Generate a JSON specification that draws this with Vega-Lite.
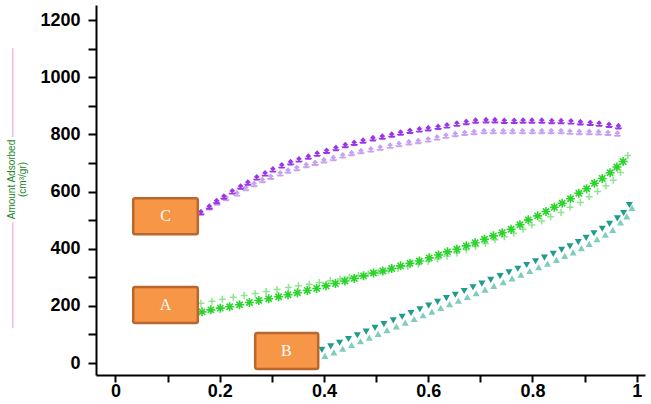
{
 "$schema": "https://vega.github.io/schema/vega-lite/v6.json",
 "width": 549, "height": 370,
 "autosize": {"type": "none"},
 "padding": {"left": 96, "top": 5, "right": 6, "bottom": 29},
 "background": "white",
 "config": {"view": {"stroke": null}, "axis": {"grid": false}},
 "datasets": {
  "pink": [{"x": -0.197, "y": 122, "y2": 493}, {"x": -0.197, "y": 791, "y2": 1102}],
  "boxes": [
   {"x": 0.034, "x2": 0.158, "y": 451, "y2": 577},
   {"x": 0.034, "x2": 0.158, "y": 140, "y2": 266},
   {"x": 0.268, "x2": 0.389, "y": -21, "y2": 105}
  ],
  "labels": [
   {"label": "C", "x": 0.096, "y": 514},
   {"label": "A", "x": 0.096, "y": 203},
   {"label": "B", "x": 0.328, "y": 42}
  ],
  "pts": [
   {"s":"C1","x":0.164,"y":526},{"s":"C1","x":0.180,"y":546},{"s":"C1","x":0.194,"y":565},{"s":"C1","x":0.208,"y":581},{"s":"C1","x":0.224,"y":599},{"s":"C1","x":0.240,"y":616},{"s":"C1","x":0.254,"y":630},{"s":"C1","x":0.271,"y":648},{"s":"C1","x":0.287,"y":662},{"s":"C1","x":0.302,"y":676},{"s":"C1","x":0.319,"y":690},{"s":"C1","x":0.336,"y":701},{"s":"C1","x":0.352,"y":711},{"s":"C1","x":0.370,"y":721},{"s":"C1","x":0.387,"y":731},{"s":"C1","x":0.405,"y":741},{"s":"C1","x":0.423,"y":751},{"s":"C1","x":0.441,"y":761},{"s":"C1","x":0.458,"y":769},{"s":"C1","x":0.475,"y":777},{"s":"C1","x":0.494,"y":785},{"s":"C1","x":0.512,"y":791},{"s":"C1","x":0.530,"y":798},{"s":"C1","x":0.547,"y":805},{"s":"C1","x":0.565,"y":811},{"s":"C1","x":0.583,"y":816},{"s":"C1","x":0.600,"y":820},{"s":"C1","x":0.619,"y":825},{"s":"C1","x":0.636,"y":830},{"s":"C1","x":0.655,"y":836},{"s":"C1","x":0.673,"y":842},{"s":"C1","x":0.691,"y":847},{"s":"C1","x":0.711,"y":848},{"s":"C1","x":0.728,"y":848},{"s":"C1","x":0.746,"y":846},{"s":"C1","x":0.765,"y":846},{"s":"C1","x":0.782,"y":847},{"s":"C1","x":0.799,"y":847},{"s":"C1","x":0.818,"y":847},{"s":"C1","x":0.837,"y":845},{"s":"C1","x":0.855,"y":845},{"s":"C1","x":0.874,"y":844},{"s":"C1","x":0.892,"y":841},{"s":"C1","x":0.911,"y":839},{"s":"C1","x":0.928,"y":836},{"s":"C1","x":0.947,"y":832},{"s":"C1","x":0.965,"y":827},
   {"s":"C2","x":0.180,"y":543},{"s":"C2","x":0.195,"y":560},{"s":"C2","x":0.212,"y":576},{"s":"C2","x":0.233,"y":592},{"s":"C2","x":0.250,"y":611},{"s":"C2","x":0.266,"y":625},{"s":"C2","x":0.282,"y":639},{"s":"C2","x":0.298,"y":650},{"s":"C2","x":0.316,"y":662},{"s":"C2","x":0.331,"y":672},{"s":"C2","x":0.348,"y":681},{"s":"C2","x":0.366,"y":691},{"s":"C2","x":0.383,"y":699},{"s":"C2","x":0.400,"y":708},{"s":"C2","x":0.418,"y":716},{"s":"C2","x":0.436,"y":725},{"s":"C2","x":0.453,"y":733},{"s":"C2","x":0.471,"y":740},{"s":"C2","x":0.490,"y":746},{"s":"C2","x":0.508,"y":752},{"s":"C2","x":0.527,"y":759},{"s":"C2","x":0.544,"y":765},{"s":"C2","x":0.563,"y":771},{"s":"C2","x":0.581,"y":775},{"s":"C2","x":0.600,"y":781},{"s":"C2","x":0.617,"y":788},{"s":"C2","x":0.634,"y":794},{"s":"C2","x":0.652,"y":800},{"s":"C2","x":0.670,"y":804},{"s":"C2","x":0.688,"y":807},{"s":"C2","x":0.707,"y":810},{"s":"C2","x":0.725,"y":810},{"s":"C2","x":0.744,"y":810},{"s":"C2","x":0.762,"y":810},{"s":"C2","x":0.781,"y":810},{"s":"C2","x":0.800,"y":810},{"s":"C2","x":0.818,"y":810},{"s":"C2","x":0.836,"y":810},{"s":"C2","x":0.855,"y":810},{"s":"C2","x":0.872,"y":808},{"s":"C2","x":0.890,"y":807},{"s":"C2","x":0.909,"y":807},{"s":"C2","x":0.927,"y":806},{"s":"C2","x":0.945,"y":804},{"s":"C2","x":0.963,"y":801},
   {"s":"A1","x":0.166,"y":179},{"s":"A1","x":0.183,"y":186},{"s":"A1","x":0.201,"y":192},{"s":"A1","x":0.219,"y":197},{"s":"A1","x":0.238,"y":204},{"s":"A1","x":0.257,"y":212},{"s":"A1","x":0.275,"y":219},{"s":"A1","x":0.294,"y":225},{"s":"A1","x":0.313,"y":232},{"s":"A1","x":0.331,"y":239},{"s":"A1","x":0.349,"y":246},{"s":"A1","x":0.368,"y":254},{"s":"A1","x":0.386,"y":261},{"s":"A1","x":0.404,"y":270},{"s":"A1","x":0.422,"y":278},{"s":"A1","x":0.440,"y":287},{"s":"A1","x":0.458,"y":296},{"s":"A1","x":0.476,"y":305},{"s":"A1","x":0.495,"y":315},{"s":"A1","x":0.513,"y":322},{"s":"A1","x":0.530,"y":331},{"s":"A1","x":0.547,"y":340},{"s":"A1","x":0.565,"y":349},{"s":"A1","x":0.583,"y":357},{"s":"A1","x":0.602,"y":368},{"s":"A1","x":0.620,"y":378},{"s":"A1","x":0.637,"y":389},{"s":"A1","x":0.655,"y":398},{"s":"A1","x":0.673,"y":410},{"s":"A1","x":0.690,"y":421},{"s":"A1","x":0.708,"y":433},{"s":"A1","x":0.725,"y":445},{"s":"A1","x":0.742,"y":456},{"s":"A1","x":0.759,"y":468},{"s":"A1","x":0.776,"y":484},{"s":"A1","x":0.792,"y":501},{"s":"A1","x":0.810,"y":515},{"s":"A1","x":0.826,"y":530},{"s":"A1","x":0.842,"y":545},{"s":"A1","x":0.857,"y":559},{"s":"A1","x":0.873,"y":575},{"s":"A1","x":0.889,"y":594},{"s":"A1","x":0.904,"y":610},{"s":"A1","x":0.919,"y":629},{"s":"A1","x":0.934,"y":646},{"s":"A1","x":0.949,"y":666},{"s":"A1","x":0.962,"y":686},{"s":"A1","x":0.974,"y":705},
   {"s":"A2","x":0.164,"y":209},{"s":"A2","x":0.185,"y":216},{"s":"A2","x":0.205,"y":223},{"s":"A2","x":0.226,"y":230},{"s":"A2","x":0.247,"y":236},{"s":"A2","x":0.268,"y":243},{"s":"A2","x":0.289,"y":250},{"s":"A2","x":0.310,"y":257},{"s":"A2","x":0.332,"y":264},{"s":"A2","x":0.351,"y":270},{"s":"A2","x":0.372,"y":276},{"s":"A2","x":0.391,"y":282},{"s":"A2","x":0.412,"y":288},{"s":"A2","x":0.431,"y":294},{"s":"A2","x":0.449,"y":300},{"s":"A2","x":0.466,"y":306},{"s":"A2","x":0.485,"y":312},{"s":"A2","x":0.504,"y":318},{"s":"A2","x":0.524,"y":324},{"s":"A2","x":0.542,"y":331},{"s":"A2","x":0.561,"y":338},{"s":"A2","x":0.581,"y":346},{"s":"A2","x":0.600,"y":355},{"s":"A2","x":0.618,"y":364},{"s":"A2","x":0.636,"y":374},{"s":"A2","x":0.655,"y":385},{"s":"A2","x":0.673,"y":396},{"s":"A2","x":0.691,"y":408},{"s":"A2","x":0.710,"y":418},{"s":"A2","x":0.728,"y":431},{"s":"A2","x":0.746,"y":442},{"s":"A2","x":0.764,"y":454},{"s":"A2","x":0.782,"y":468},{"s":"A2","x":0.799,"y":483},{"s":"A2","x":0.818,"y":497},{"s":"A2","x":0.835,"y":512},{"s":"A2","x":0.855,"y":527},{"s":"A2","x":0.872,"y":545},{"s":"A2","x":0.892,"y":562},{"s":"A2","x":0.909,"y":582},{"s":"A2","x":0.925,"y":600},{"s":"A2","x":0.941,"y":620},{"s":"A2","x":0.955,"y":640},{"s":"A2","x":0.969,"y":667},{"s":"A2","x":0.983,"y":726},
   {"s":"B1","x":0.396,"y":46},{"s":"B1","x":0.413,"y":58},{"s":"B1","x":0.430,"y":71},{"s":"B1","x":0.447,"y":84},{"s":"B1","x":0.464,"y":97},{"s":"B1","x":0.481,"y":110},{"s":"B1","x":0.498,"y":123},{"s":"B1","x":0.515,"y":136},{"s":"B1","x":0.533,"y":149},{"s":"B1","x":0.550,"y":162},{"s":"B1","x":0.567,"y":175},{"s":"B1","x":0.584,"y":188},{"s":"B1","x":0.601,"y":201},{"s":"B1","x":0.618,"y":214},{"s":"B1","x":0.635,"y":227},{"s":"B1","x":0.652,"y":239},{"s":"B1","x":0.669,"y":252},{"s":"B1","x":0.686,"y":265},{"s":"B1","x":0.703,"y":278},{"s":"B1","x":0.720,"y":291},{"s":"B1","x":0.738,"y":304},{"s":"B1","x":0.755,"y":317},{"s":"B1","x":0.772,"y":330},{"s":"B1","x":0.789,"y":343},{"s":"B1","x":0.806,"y":356},{"s":"B1","x":0.823,"y":369},{"s":"B1","x":0.840,"y":382},{"s":"B1","x":0.856,"y":396},{"s":"B1","x":0.872,"y":408},{"s":"B1","x":0.888,"y":423},{"s":"B1","x":0.903,"y":438},{"s":"B1","x":0.918,"y":454},{"s":"B1","x":0.934,"y":470},{"s":"B1","x":0.948,"y":487},{"s":"B1","x":0.963,"y":506},{"s":"B1","x":0.975,"y":525},{"s":"B1","x":0.986,"y":553},
   {"s":"B2","x":0.402,"y":25},{"s":"B2","x":0.419,"y":37},{"s":"B2","x":0.436,"y":50},{"s":"B2","x":0.453,"y":63},{"s":"B2","x":0.470,"y":76},{"s":"B2","x":0.487,"y":89},{"s":"B2","x":0.504,"y":102},{"s":"B2","x":0.521,"y":115},{"s":"B2","x":0.539,"y":128},{"s":"B2","x":0.556,"y":141},{"s":"B2","x":0.573,"y":154},{"s":"B2","x":0.590,"y":167},{"s":"B2","x":0.607,"y":180},{"s":"B2","x":0.624,"y":193},{"s":"B2","x":0.641,"y":206},{"s":"B2","x":0.658,"y":218},{"s":"B2","x":0.675,"y":231},{"s":"B2","x":0.692,"y":244},{"s":"B2","x":0.709,"y":257},{"s":"B2","x":0.726,"y":270},{"s":"B2","x":0.744,"y":283},{"s":"B2","x":0.761,"y":296},{"s":"B2","x":0.778,"y":309},{"s":"B2","x":0.795,"y":322},{"s":"B2","x":0.812,"y":335},{"s":"B2","x":0.829,"y":348},{"s":"B2","x":0.846,"y":361},{"s":"B2","x":0.862,"y":375},{"s":"B2","x":0.878,"y":387},{"s":"B2","x":0.894,"y":402},{"s":"B2","x":0.909,"y":417},{"s":"B2","x":0.924,"y":433},{"s":"B2","x":0.940,"y":449},{"s":"B2","x":0.954,"y":466},{"s":"B2","x":0.969,"y":492},{"s":"B2","x":0.981,"y":513},{"s":"B2","x":0.991,"y":543}
  ]
 },
 "encoding": {
  "x": {"field": "x", "type": "quantitative",
   "scale": {"domain": [-0.0374, 1.016], "nice": false, "zero": false},
   "axis": {"values": [0, 0.1, 0.2, 0.3, 0.4, 0.5, 0.6, 0.7, 0.8, 0.9, 1],
    "labelExpr": "round(datum.value*10)%2==0 ? ''+datum.value : ''",
    "title": null, "domainColor": "black", "domainWidth": 2, "tickColor": "black", "tickWidth": 2, "tickSize": 7,
    "labelFont": "Liberation Sans", "labelFontSize": 18, "labelFontWeight": "bold", "labelColor": "black",
    "labelPadding": 0, "labelFlush": false, "labelOverlap": false}},
  "y": {"field": "y", "type": "quantitative",
   "scale": {"domain": [-42, 1253], "nice": false, "zero": false},
   "axis": {"values": [0, 100, 200, 300, 400, 500, 600, 700, 800, 900, 1000, 1100, 1200],
    "labelExpr": "datum.value%200==0 ? ''+datum.value : ''",
    "title": ["Amount Adsorbed", "(cm³/gr)"], "titleFont": "Liberation Sans", "titleFontSize": 10,
    "titleFontWeight": "normal", "titleColor": "#1E861E", "titleX": -80, "titleY": 174, "titleAngle": 270,
    "titleAlign": "center", "titleBaseline": "bottom", "titleLineHeight": 11,
    "domainColor": "black", "domainWidth": 2, "tickColor": "black", "tickWidth": 2, "tickSize": 8,
    "labelFont": "Liberation Sans", "labelFontSize": 18, "labelFontWeight": "bold", "labelColor": "black",
    "labelPadding": 8, "labelFlush": false, "labelOverlap": false}}
 },
 "layer": [
  {"data": {"name": "pink"}, "mark": {"type": "rule", "color": "#EFA8DE", "strokeWidth": 1.2},
   "encoding": {"y2": {"field": "y2"}}},
  {"data": {"name": "pts"}, "transform": [{"filter": "datum.s=='C2'"}],
   "mark": {"type": "point", "shape": "M0,-1L0.75,-0.2L0,0.3L-0.75,-0.2Z M-1,0.2L1,0.2L0.7,0.7L-0.7,0.7Z", "filled": true, "color": "#C6A2F0", "size": 60, "opacity": 1}},
  {"data": {"name": "pts"}, "transform": [{"filter": "datum.s=='C1'"}],
   "mark": {"type": "point", "shape": "M0,-1L0.75,-0.2L0,0.3L-0.75,-0.2Z M-1,0.2L1,0.2L0.7,0.7L-0.7,0.7Z", "filled": true, "color": "#9A36E8", "size": 60, "opacity": 1}},
  {"data": {"name": "pts"}, "transform": [{"filter": "datum.s=='A2'"}],
   "mark": {"type": "point", "shape": "M-1,0L1,0M0,-1L0,1", "filled": false, "color": "#8EE68E", "strokeWidth": 1.5, "size": 49, "opacity": 1}},
  {"data": {"name": "pts"}, "transform": [{"filter": "datum.s=='A1'"}],
   "mark": {"type": "point", "shape": "M-1,0L1,0M0,-1L0,1M-0.7,-0.7L0.7,0.7M-0.7,0.7L0.7,-0.7", "filled": false, "color": "#2BD42B", "strokeWidth": 1.6, "size": 81, "opacity": 1}},
  {"data": {"name": "pts"}, "transform": [{"filter": "datum.s=='B2'"}],
   "mark": {"type": "point", "shape": "triangle-up", "filled": true, "color": "#7FCDBF", "size": 50, "opacity": 1}},
  {"data": {"name": "pts"}, "transform": [{"filter": "datum.s=='B1'"}],
   "mark": {"type": "point", "shape": "triangle-down", "filled": true, "color": "#1E9C8C", "size": 50, "opacity": 1}},
  {"data": {"name": "boxes"},
   "mark": {"type": "rect", "fill": "#F79646", "stroke": "#B8672E", "strokeWidth": 2.5, "cornerRadius": 2},
   "encoding": {"x2": {"field": "x2"}, "y2": {"field": "y2"}}},
  {"data": {"name": "labels"},
   "mark": {"type": "text", "font": "Liberation Serif", "fontSize": 16, "color": "white", "align": "center", "baseline": "middle"},
   "encoding": {"text": {"field": "label"}}}
 ]
}
